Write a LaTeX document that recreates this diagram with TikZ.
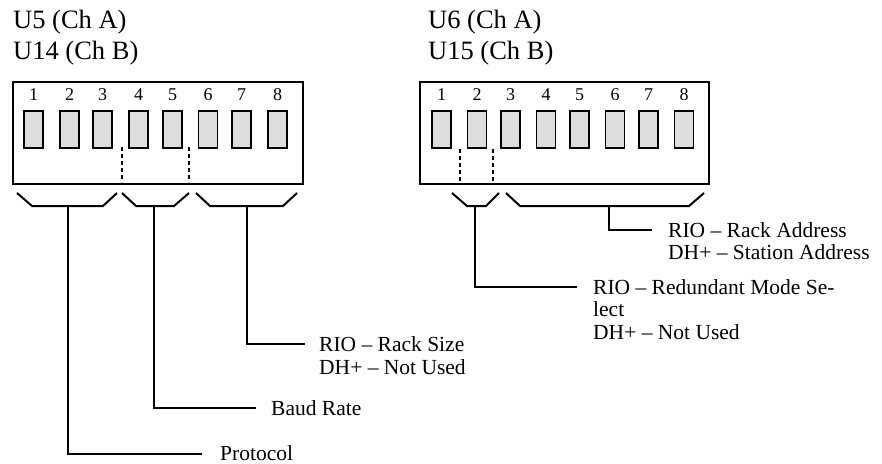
\documentclass[tikz,border=0pt]{standalone}
\usepackage{fontspec}
\setmainfont{Liberation Serif}
\definecolor{swgray}{HTML}{DDDDDD}
\begin{document}
\begin{tikzpicture}[x=1pt,y=-1pt,
  sw/.style={draw, fill=swgray, minimum width=19pt, minimum height=37pt, inner sep=0pt, line width=1.8pt},
  box/.style={draw, line width=2pt, inner sep=0pt, anchor=north west},
  num/.style={font=\fontsize{18}{20}\selectfont, inner sep=0pt},
  head/.style={font=\fontsize{26.5}{28}\selectfont, inner sep=0pt, anchor=west},
  lab/.style={font=\fontsize{21.5}{23}\selectfont, inner sep=0pt, anchor=west},
  sep/.style={dash pattern=on 4pt off 3pt, line width=1.8pt},
  brk/.style={line width=2pt, line join=miter},
  lead/.style={line width=2pt}]
\useasboundingbox (0,0) rectangle (882,463);

% headers
\node[head] (hL1) at (13,22) {U5 (Ch A)};
\node[head] (hL2) at (13,53) {U14 (Ch B)};
\node[head] (hR1) at (428,22) {U6 (Ch A)};
\node[head] (hR2) at (428,53) {U15 (Ch B)};

% boxes
\node[box, minimum width=290pt, minimum height=102pt] (boxL) at (12,81) {};
\node[box, minimum width=289pt, minimum height=102pt] (boxR) at (419,81) {};

% switches and numbers
\foreach \x [count=\i] in {33.5,69.5,102.5,138.5,172.5,208,241.5,277.5} {
  \node[sw] (L\i) at (\x,129.5) {};
  \node[num] (nL\i) at (\x,95) {\i};
}
\foreach \x [count=\i] in {441.5,477,510.5,546,579.5,615,648.5,684} {
  \node[sw] (R\i) at (\x,129.5) {};
  \node[num] (nR\i) at (\x,95) {\i};
}

% dashed separators
\draw[sep] (122,147) -- (122,182);
\draw[sep] (189,147) -- (189,182);
\draw[sep] (460,149) -- (460,182);
\draw[sep] (493,149) -- (493,182);

% brackets
\draw[brk] (17,193) -- (32,206) -- (103,206) -- (117,193);
\draw[brk] (122,193) -- (136,206) -- (174,206) -- (189,193);
\draw[brk] (196,193) -- (210,206) -- (283,206) -- (297,193);
\draw[brk] (452,193) -- (467,206) -- (486,206) -- (499,193);
\draw[brk] (506,193) -- (520,206) -- (689,206) -- (704,193);

\coordinate (bL1) at (68,206);
\coordinate (bL2) at (154,206);
\coordinate (bL3) at (247,206);
\coordinate (bR1) at (475,206);
\coordinate (bR2) at (609,206);

% labels
\node[lab] (protocol) at (220,453.5) {Protocol};
\node[lab] (baud) at (271,408) {Baud Rate};
\node[lab] (rs1) at (319,344) {RIO – Rack Size};
\node[lab] (rs2) at (319,367) {DH+ – Not Used};
\node[lab] (ra1) at (668,230) {RIO – Rack Address};
\node[lab] (ra2) at (668,252) {DH+ – Station Address};
\node[lab] (rm1) at (593,287) {RIO – Redundant Mode Se-};
\node[lab] (rm2) at (593,309) {lect};
\node[lab] (rm3) at (593,332) {DH+ – Not Used};

% leaders
\draw[lead] (bL1) |- ([xshift=-18pt]protocol.west);
\draw[lead] (bL2) |- ([xshift=-15pt]baud.west);
\draw[lead] (bL3) |- ([xshift=-14pt]rs1.west);
\draw[lead] (bR2) |- ([xshift=-16pt]ra1.west);
\draw[lead] (bR1) |- ([xshift=-16pt]rm1.west);
\end{tikzpicture}
\end{document}
